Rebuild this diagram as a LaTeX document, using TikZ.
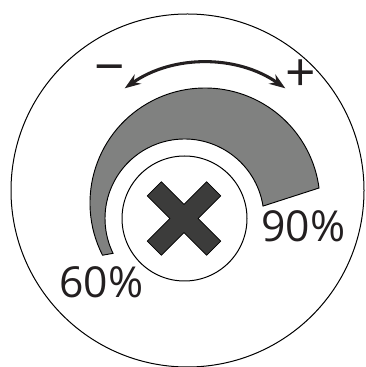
\documentclass[tikz,border=0pt]{standalone}
\usepackage{fontspec}
\setmainfont{Open Sans}
\usetikzlibrary{arrows.meta,calc}
\definecolor{bandgray}{RGB}{128,129,128}
\definecolor{xgray}{RGB}{60,60,59}
\definecolor{ink}{RGB}{35,31,32}
\begin{document}
\begin{tikzpicture}[x=0.75pt,y=0.75pt,
  outline/.style={draw=black,line width=0.75pt},
  pct/.style={anchor=base west,inner sep=0pt,text=ink,font=\fontsize{32}{33}\selectfont},
  sign/.style={inner sep=0pt,text=ink,font=\fontsize{40}{40}\selectfont},
  dblarrow/.style={draw=ink,line width=2.3pt,{Stealth[length=12pt,width=8.5pt]}-{Stealth[length=12pt,width=8.5pt]}}]
\useasboundingbox (0,0) rectangle (365,367);
\coordinate (C0) at (187.5,176.5);
\coordinate (C1) at (205,164);
\coordinate (C2) at (184.5,148.5);
% outer disc
\draw[outline,fill=white] (C0) circle[radius=176.5];
% tapered grey band
\draw[outline,line width=0.7pt,fill=bandgray]
  ($(C1)+(207:115)$) arc[start angle=207,end angle=7.5,radius=115]
  -- ($(C2)+(9:79.5)$) arc[start angle=9,end angle=206,radius=79.5] -- cycle;
% inner circle
\draw[outline] (C2) circle[radius=62.5];
% cross
\begin{scope}[shift={(184,148.5)},rotate=45]
\draw[draw=black,line width=0.5pt,fill=xgray]
  (-10,42) -- (10,42) -- (10,10) -- (42,10) -- (42,-10) -- (10,-10)
  -- (10,-42) -- (-10,-42) -- (-10,-10) -- (-42,-10) -- (-42,10) -- (-10,10) -- cycle;
\end{scope}
% double arrow
\coordinate (aL) at ($(C1)+(125:140)$);
\draw[dblarrow] (aL) arc[start angle=125,end angle=55,radius=140];
% labels
\node[sign] (minus) at (110,291.5) {−};
\node[sign] (plus) at (301,291) {+};
\node[pct] (p60) at (59,69) {60\%};
\node[pct] (p90) at (261,125) {90\%};
\end{tikzpicture}
\end{document}
